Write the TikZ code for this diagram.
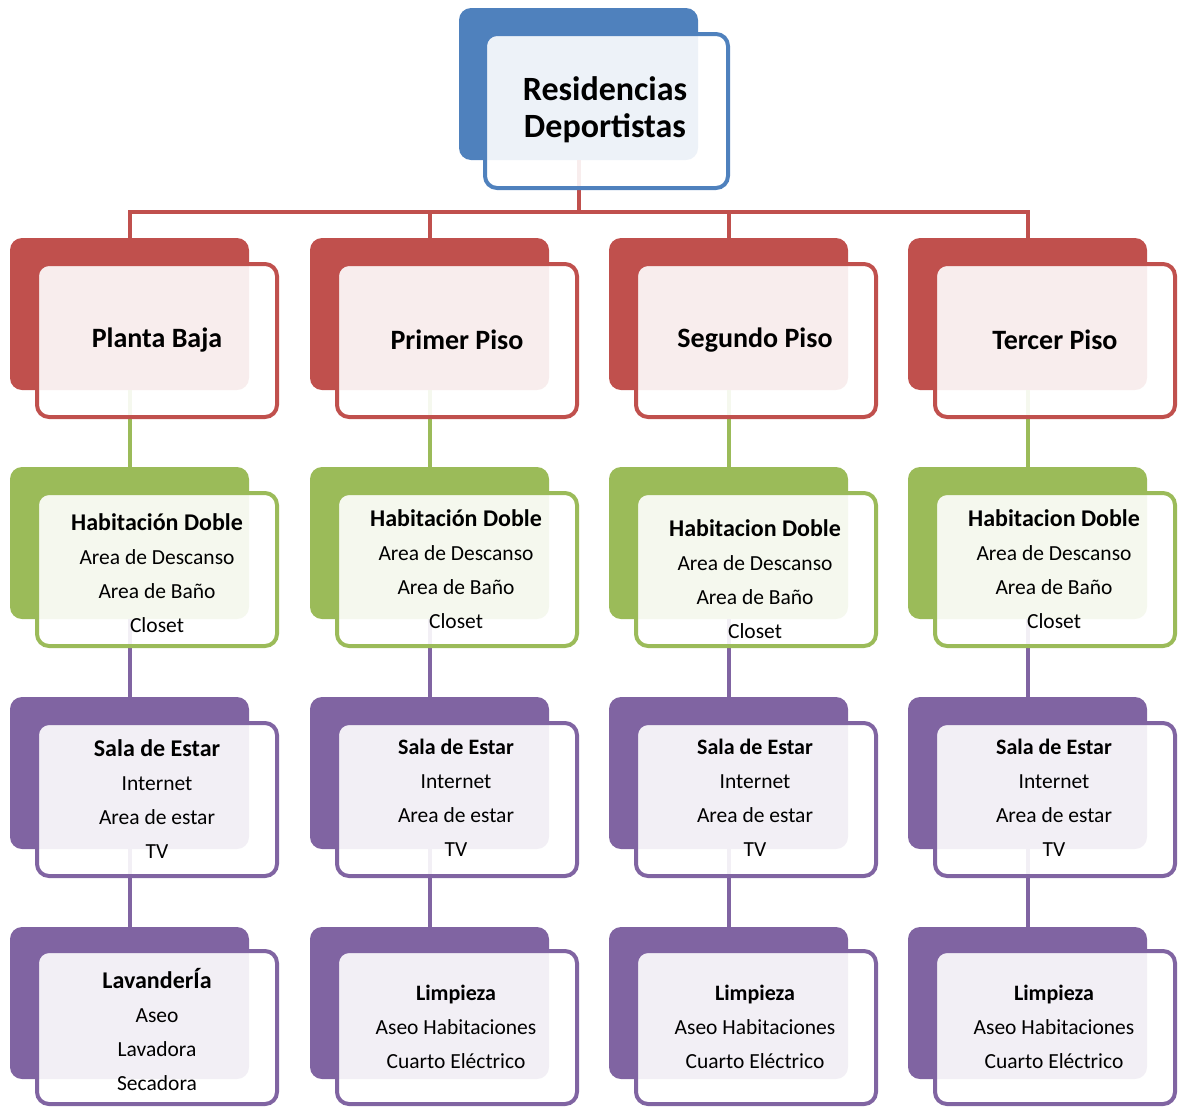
\documentclass[tikz,border=0pt]{standalone}
\usepackage{fontspec}
\setmainfont{Carlito}
\definecolor{cBlue}{HTML}{4F81BD}
\definecolor{cRed}{HTML}{C0504D}
\definecolor{cGreen}{HTML}{9BBB59}
\definecolor{cPurple}{HTML}{8064A2}
\newcommand{\hd}[2]{{\bfseries\fontsize{#1}{#1}\selectfont #2}}
\begin{document}
\begin{tikzpicture}[x=1pt,y=-1pt,
  backbox/.style={rectangle, rounded corners=12pt, fill=#1, minimum width=239pt, minimum height=152pt, anchor=north west, inner sep=0pt, outer sep=0pt},
  frontbox/.style={rectangle, rounded corners=12pt, draw=#1, line width=4pt, fill=white, fill opacity=0.9, minimum width=240pt, minimum height=153pt, anchor=north west, inner sep=0pt, outer sep=0pt},
  conn/.style={draw=#1, line width=4pt},
  lvl/.style={align=center, inner sep=0pt, font=\bfseries\fontsize{28}{32}\selectfont},
  list/.style={align=center, inner sep=0pt, font=\fontsize{21.5}{34}\selectfont}]
\useasboundingbox (0,0) rectangle (1178,1106);
% back boxes
\node[backbox=cBlue] (top) at (459,8) {};
\foreach \c/\x in {1/10,2/310,3/609,4/908}{
  \node[backbox=cRed] (b\c1) at (\x,238) {};
  \node[backbox=cGreen] (b\c2) at (\x,467) {};
  \node[backbox=cPurple] (b\c3) at (\x,697) {};
  \node[backbox=cPurple] (b\c4) at (\x,927) {};
}
% connectors
\coordinate (bus) at (0,212);
\draw[conn=cRed] (top.south) -- (top.south |- bus);
\draw[conn=cRed] (b11.north) |- (b41.north |- bus) -- (b41.north);
\draw[conn=cRed] (b21.north) -- (b21.north |- bus);
\draw[conn=cRed] (b31.north) -- (b31.north |- bus);
\foreach \c in {1,2,3,4}{
  \draw[conn=cGreen] (b\c1.south) -- (b\c2.north);
  \draw[conn=cPurple] (b\c2.south) -- (b\c3.north);
  \draw[conn=cPurple] (b\c3.south) -- (b\c4.north);
}
% front boxes
\node[frontbox=cBlue, minimum width=243pt, minimum height=154pt] (ftop) at (485,34) {};
\foreach \c/\x in {1/10,2/310,3/609,4/908}{
  \node[frontbox=cRed] (f\c1) at (\x+27,264) {};
  \node[frontbox=cGreen] (f\c2) at (\x+27,493) {};
  \node[frontbox=cPurple] (f\c3) at (\x+27,723) {};
  \node[frontbox=cPurple] (f\c4) at (\x+27,951) {};
}
% texts
\node[align=center, inner sep=0pt, font=\bfseries\fontsize{34}{37}\selectfont] (ttop) at (605,110) {Residencias\\Deportistas};
\node[lvl] (t11) at (157,340) {Planta Baja};
\node[lvl] (t21) at (457,340) {Primer Piso};
\node[lvl] (t31) at (755,340) {Segundo Piso};
\node[lvl] (t41) at (1055,340) {Tercer Piso};
\node[list] (t12) at (157,573) {\hd{24}{Habitación Doble}\\Area de Descanso\\Area de Baño\\Closet};
\node[list] (t22) at (456,569) {\hd{24}{Habitación Doble}\\Area de Descanso\\Area de Baño\\Closet};
\node[list] (t32) at (755,579) {\hd{24}{Habitacion Doble}\\Area de Descanso\\Area de Baño\\Closet};
\node[list] (t42) at (1054,569) {\hd{24}{Habitacion Doble}\\Area de Descanso\\Area de Baño\\Closet};
\node[list] (t13) at (157,799) {\hd{24}{Sala de Estar}\\Internet\\Area de estar\\TV};
\node[list] (t23) at (456,798) {\hd{22}{Sala de Estar}\\Internet\\Area de estar\\TV};
\node[list] (t33) at (755,798) {\hd{22}{Sala de Estar}\\Internet\\Area de estar\\TV};
\node[list] (t43) at (1054,798) {\hd{22}{Sala de Estar}\\Internet\\Area de estar\\TV};
\node[list] (t14) at (157,1029) {\hd{24}{LavanderÍa}\\Aseo\\Lavadora\\Secadora};
\node[list] (t24) at (456,1027) {\hd{22}{Limpieza}\\Aseo Habitaciones\\Cuarto Eléctrico};
\node[list] (t34) at (755,1027) {\hd{22}{Limpieza}\\Aseo Habitaciones\\Cuarto Eléctrico};
\node[list] (t44) at (1054,1027) {\hd{22}{Limpieza}\\Aseo Habitaciones\\Cuarto Eléctrico};
\end{tikzpicture}
\end{document}
